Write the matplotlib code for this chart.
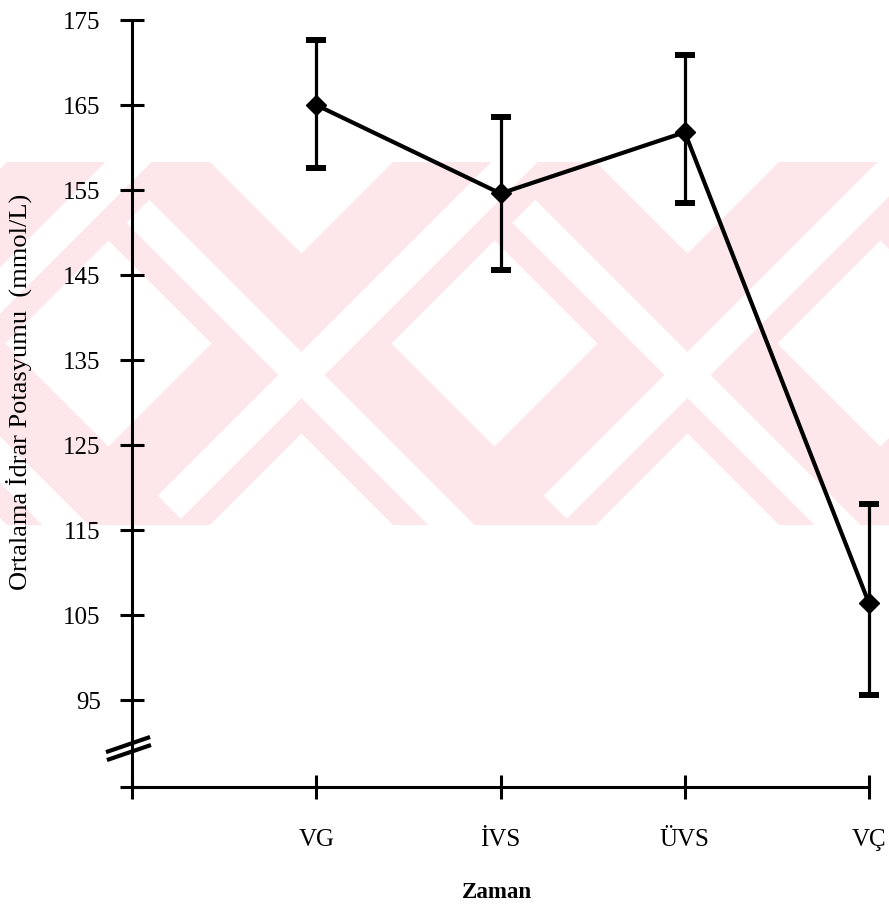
import matplotlib
matplotlib.use("Agg")
import matplotlib.pyplot as plt
from matplotlib.patches import Polygon, Rectangle
import numpy as np

# ---- data ----
categories = ['VG', 'İVS', 'ÜVS', 'VÇ']
means = [165.0, 154.6, 161.8, 106.4]
upper = [172.6, 163.6, 170.9, 118.1]
lower = [157.6, 145.6, 153.5, 95.6]
yticks = [95, 105, 115, 125, 135, 145, 155, 165, 175]

W, H = 889, 909
fig = plt.figure(figsize=(W / 100, H / 100), dpi=100)
fig.patch.set_facecolor('white')

# ---- faint watermark (background decoration) ----
pink = '#fde7eb'
band_top, band_bot = 162, 525
hgt = band_bot - band_top
clip = Rectangle((0, 1 - band_bot / H), 1, hgt / H, transform=fig.transFigure)

def px(pts):
    return [(x / W, 1 - y / H) for x, y in pts]

def band(a, b, direction):
    s = hgt if direction == 'back' else -hgt
    return px([(a, band_top), (b, band_top), (b + s, band_bot), (a + s, band_bot)])

def add_poly(pts, color):
    p = Polygon(pts, closed=True, facecolor=color, edgecolor='none',
                transform=fig.transFigure, zorder=-10)
    fig.add_artist(p)
    p.set_clip_path(clip)

centers = [-84.5, 301.5, 687.5, 1073.5]
for c in reversed(centers):
    add_poly(band(c - 271.5, c - 91.5, 'back'), pink)
    add_poly(band(c + 91.5, c + 271.5, 'fwd'), pink)
    add_poly(band(c - 236, c - 190, 'back'), 'white')
    add_poly(band(c + 190, c + 236, 'fwd'), 'white')

# ---- axes ----
ax = fig.add_axes([132 / W, 1 - 787 / H, (869 - 132) / W, (787 - 20) / H])
ax.set_facecolor('none')

x = np.arange(1, len(categories) + 1)
m = np.array(means)
err = [m - np.array(lower), np.array(upper) - m]

eb = ax.errorbar(x, m, yerr=err, fmt='none', ecolor='black', elinewidth=2.3,
                 capsize=7, capthick=4.3, zorder=3)
for art in eb.lines[1] + eb.lines[2]:
    art.set_clip_on(False)
ax.plot(x, m, color='black', lw=3.0, marker='D', ms=10.5, zorder=4, clip_on=False)

ymin = 84.8
ax.set_xlim(0, 4)
ax.set_ylim(ymin, 175)

for s in ['top', 'right']:
    ax.spines[s].set_visible(False)
for s in ['left', 'bottom']:
    ax.spines[s].set_linewidth(2.2)

ax.set_xticks(np.arange(0, len(categories) + 1))
ax.set_xticklabels([''] + categories)
ax.set_yticks(yticks)
ax.set_yticklabels([str(v) for v in yticks])
ax.set_yticks([ymin], minor=True)

ax.tick_params(axis='y', which='major', direction='inout', length=17, width=2.2,
               pad=14.0, labelsize=18)
ax.tick_params(axis='y', which='minor', direction='inout', length=17, width=2.2)
ax.tick_params(axis='x', which='major', direction='inout', length=17, width=2.2,
               pad=22.0, labelsize=18)

for lab in ax.get_xticklabels() + ax.get_yticklabels():
    lab.set_fontfamily('Liberation Serif')

ax.set_ylabel('Ortalama İdrar Potasyumu  (mmol/L)', fontfamily='Liberation Serif',
              fontsize=19)
ax.yaxis.label.set_verticalalignment('center')
ax.yaxis.set_label_coords(-0.154, 0.515)

ax.set_xlabel('Zaman', fontfamily='Liberation Serif', fontsize=16.5, fontweight='bold')
ax.xaxis.label.set_verticalalignment('center')
ax.xaxis.set_label_coords(0.495, -0.137)

# axis break marks
ax.plot([-0.141, 0.098], [88.9, 90.68], color='black', lw=3.0, clip_on=False,
        solid_capstyle='butt', zorder=5)
ax.plot([-0.136, 0.103], [87.97, 89.74], color='black', lw=3.0, clip_on=False,
        solid_capstyle='butt', zorder=5)

fig.savefig('out.png', dpi=100)
